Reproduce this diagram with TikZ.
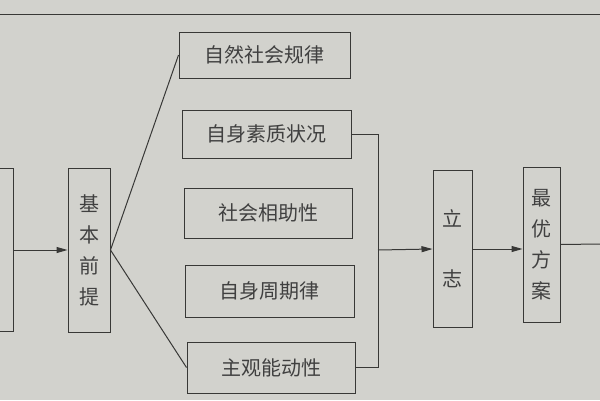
\documentclass[tikz,border=0pt]{standalone}
\usepackage{fontspec}
\setmainfont{Noto Sans CJK SC}
\usepackage{tikz}
\usetikzlibrary{positioning,calc,arrows.meta}
\definecolor{paper}  {HTML}{D2D2CD}
\definecolor{ink}    {HTML}{383836}
\definecolor{softink}{HTML}{404040}
\tikzset{
  >={Triangle[length=11pt,width=6pt]},
  every node/.style={font=\fontsize{20}{31}\selectfont, text=softink},
  % --- nodes
  box/.style  = {draw=ink, line width=1pt, inner sep=0pt, align=center},
  hbox/.style = {box, minimum height=48pt},
  vbox/.style = {box, minimum width=42pt},
  % --- edges
  e/.style    = {draw=ink, line width=1pt},
  ea/.style   = {e, ->},
}
\begin{document}
\begin{tikzpicture}[x=1pt,y=-1pt]
  \fill[paper] (0,0) rectangle (600,400);
  \useasboundingbox (0,0) rectangle (600,400);
  % page rule
  \coordinate (ruleL) at (0,14);
  \coordinate (ruleR) at (600,14);
  \draw[e] (ruleL) -- (ruleR);

  % left column
  \node[vbox, minimum height=163pt] (prev) at (-8,250) {};
  \node[vbox, minimum height=164pt] (premise) at (89,250)
    {基\\本\\前\\提};

  % middle column
  \node[hbox, minimum width=171pt, minimum height=46pt] (law) at (264.5,55) {自然社会规律};
  \node[hbox, minimum width=169pt] (quality) at (266.5,134) {自身素质状况};
  \node[hbox, minimum width=168pt, minimum height=50pt] (mutual) at (268,213) {社会相助性};
  \node[hbox, minimum width=169pt, minimum height=52pt] (cycle) at (269.5,291) {自身周期律};
  \node[hbox, minimum width=168pt, minimum height=51pt] (initiative) at (271,367.5) {主观能动性};

  % right column
  \node[vbox, minimum width=39pt, minimum height=157pt,
        font=\fontsize{20}{60}\selectfont] (will) at (452.5,249) {立\\志};
  \node[vbox, minimum width=37pt, minimum height=155pt] (plan) at (541.5,244.5)
    {最\\优\\方\\案};

  % connectors
  \draw[ea] (prev.east) -- (premise.west);
  \draw[e] (law.west) -- (premise.east) -- (initiative.west);
  \draw[e] (quality.east) -- ++(27,0) |- (initiative.east);
  \coordinate (join) at (378,250);
  \draw[ea] (join) -- (will.west);
  \draw[ea] (will.east) -- (will.east -| plan.west);
  \coordinate (out) at (600,244);
  \draw[e] (plan.east) -- (out);
\end{tikzpicture}
\end{document}
